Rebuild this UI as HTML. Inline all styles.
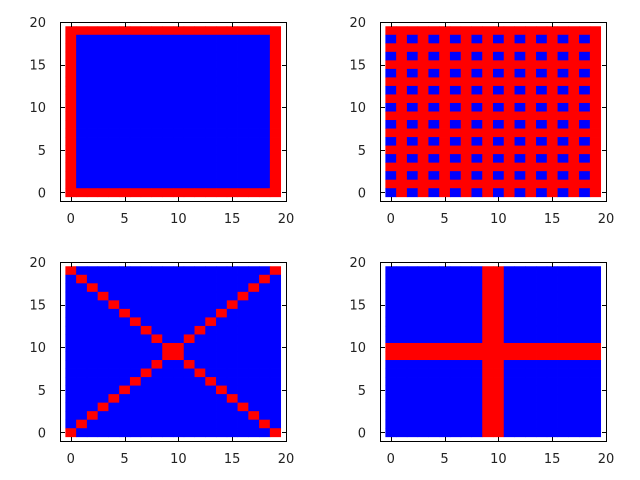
<!DOCTYPE html>
<html><head><meta charset="utf-8"><style>
body{margin:0;background:#fff}
svg{display:block}
text{font-family:"DejaVu Sans","Liberation Sans",sans-serif;font-size:13px;fill:#222}
</style></head><body>
<svg id="chart" width="640" height="480" xmlns="http://www.w3.org/2000/svg"></svg>
<script>
// Data: each panel a 20x20 matrix, rows listed from y=19 (top) to y=0 (bottom); R=1 (red), B=0 (blue)
const borderRows = ["RRRRRRRRRRRRRRRRRRRR","RBBBBBBBBBBBBBBBBBBR","RBBBBBBBBBBBBBBBBBBR","RBBBBBBBBBBBBBBBBBBR","RBBBBBBBBBBBBBBBBBBR","RBBBBBBBBBBBBBBBBBBR","RBBBBBBBBBBBBBBBBBBR","RBBBBBBBBBBBBBBBBBBR","RBBBBBBBBBBBBBBBBBBR","RBBBBBBBBBBBBBBBBBBR","RBBBBBBBBBBBBBBBBBBR","RBBBBBBBBBBBBBBBBBBR","RBBBBBBBBBBBBBBBBBBR","RBBBBBBBBBBBBBBBBBBR","RBBBBBBBBBBBBBBBBBBR","RBBBBBBBBBBBBBBBBBBR","RBBBBBBBBBBBBBBBBBBR","RBBBBBBBBBBBBBBBBBBR","RBBBBBBBBBBBBBBBBBBR","RRRRRRRRRRRRRRRRRRRR"];
const checkRows = ["RRRRRRRRRRRRRRRRRRRR","BRBRBRBRBRBRBRBRBRBR","RRRRRRRRRRRRRRRRRRRR","BRBRBRBRBRBRBRBRBRBR","RRRRRRRRRRRRRRRRRRRR","BRBRBRBRBRBRBRBRBRBR","RRRRRRRRRRRRRRRRRRRR","BRBRBRBRBRBRBRBRBRBR","RRRRRRRRRRRRRRRRRRRR","BRBRBRBRBRBRBRBRBRBR","RRRRRRRRRRRRRRRRRRRR","BRBRBRBRBRBRBRBRBRBR","RRRRRRRRRRRRRRRRRRRR","BRBRBRBRBRBRBRBRBRBR","RRRRRRRRRRRRRRRRRRRR","BRBRBRBRBRBRBRBRBRBR","RRRRRRRRRRRRRRRRRRRR","BRBRBRBRBRBRBRBRBRBR","RRRRRRRRRRRRRRRRRRRR","BRBRBRBRBRBRBRBRBRBR"];
const crossXRows = ["RBBBBBBBBBBBBBBBBBBR","BRBBBBBBBBBBBBBBBBRB","BBRBBBBBBBBBBBBBBRBB","BBBRBBBBBBBBBBBBRBBB","BBBBRBBBBBBBBBBRBBBB","BBBBBRBBBBBBBBRBBBBB","BBBBBBRBBBBBBRBBBBBB","BBBBBBBRBBBBRBBBBBBB","BBBBBBBBRBBRBBBBBBBB","BBBBBBBBBRRBBBBBBBBB","BBBBBBBBBRRBBBBBBBBB","BBBBBBBBRBBRBBBBBBBB","BBBBBBBRBBBBRBBBBBBB","BBBBBBRBBBBBBRBBBBBB","BBBBBRBBBBBBBBRBBBBB","BBBBRBBBBBBBBBBRBBBB","BBBRBBBBBBBBBBBBRBBB","BBRBBBBBBBBBBBBBBRBB","BRBBBBBBBBBBBBBBBBRB","RBBBBBBBBBBBBBBBBBBR"];
const plusRows = ["BBBBBBBBBRRBBBBBBBBB","BBBBBBBBBRRBBBBBBBBB","BBBBBBBBBRRBBBBBBBBB","BBBBBBBBBRRBBBBBBBBB","BBBBBBBBBRRBBBBBBBBB","BBBBBBBBBRRBBBBBBBBB","BBBBBBBBBRRBBBBBBBBB","BBBBBBBBBRRBBBBBBBBB","BBBBBBBBBRRBBBBBBBBB","RRRRRRRRRRRRRRRRRRRR","RRRRRRRRRRRRRRRRRRRR","BBBBBBBBBRRBBBBBBBBB","BBBBBBBBBRRBBBBBBBBB","BBBBBBBBBRRBBBBBBBBB","BBBBBBBBBRRBBBBBBBBB","BBBBBBBBBRRBBBBBBBBB","BBBBBBBBBRRBBBBBBBBB","BBBBBBBBBRRBBBBBBBBB","BBBBBBBBBRRBBBBBBBBB","BBBBBBBBBRRBBBBBBBBB"];
const xTicks = [0,5,10,15,20];
const yTicks = [0,5,10,15,20];
const panelNames = ["border-panel","checker-panel","x-cross-panel","plus-cross-panel"];

const svg = document.getElementById('chart');
const NS = "http://www.w3.org/2000/svg";
const panels = [
  {rows:borderRows, L:60, T:22},
  {rows:checkRows, L:380, T:22},
  {rows:crossXRows, L:60, T:262},
  {rows:plusRows, L:380, T:262}
];
const W=226, H=179, XMIN=-1, XMAX=20, YMIN=-1, YMAX=20;
function mk(tag, attrs){const e=document.createElementNS(NS,tag);for(const k in attrs)e.setAttribute(k,attrs[k]);return e;}
panels.forEach((p,pi)=>{
  const sx=v=>p.L+(v-XMIN)/(XMAX-XMIN)*W;
  const sy=v=>p.T+H-(v-YMIN)/(YMAX-YMIN)*H;
  const g=mk('g',{});
  
  
  svg.appendChild(g);
  const n=p.rows.length;
  p.rows.forEach((row,ri)=>{
    const y=n-1-ri;
    for(let x=0;x<row.length;x++){
      const x0=sx(x-0.5), x1=sx(x+0.5), y0=sy(y+0.5), y1=sy(y-0.5);
      const r=mk('rect',{x:x0,y:y0,width:x1-x0+0.4,height:y1-y0+0.4,fill:row[x]==='R'?'#ff0000':'#0000ff'});
      
      
      g.appendChild(r);
    }
  });
  const fr=mk('rect',{x:p.L+0.5,y:p.T+0.5,width:W,height:H,fill:'none',stroke:'#000','stroke-width':1});
  
  
  g.appendChild(fr);
  xTicks.forEach(t=>{
    const x=Math.round(sx(t))+0.5;
    g.appendChild(mk('line',{x1:x,x2:x,y1:p.T+H+0.5,y2:p.T+H-4,stroke:'#000'}));
    g.appendChild(mk('line',{x1:x,x2:x,y1:p.T+0.5,y2:p.T+5,stroke:'#000'}));
    const tx=mk('text',{x:sx(t),y:p.T+H+22,'text-anchor':'middle'});
    tx.textContent=t;
    
    
    g.appendChild(tx);
  });
  yTicks.forEach(t=>{
    const y=Math.round(sy(t))+0.5;
    g.appendChild(mk('line',{x1:p.L+0.5,x2:p.L+5,y1:y,y2:y,stroke:'#000'}));
    g.appendChild(mk('line',{x1:p.L+W+0.5,x2:p.L+W-4,y1:y,y2:y,stroke:'#000'}));
    const ty=mk('text',{x:p.L-14,y:sy(t)+5,'text-anchor':'end'});
    ty.textContent=t;
    
    
    g.appendChild(ty);
  });
});
</script>
</body></html>
